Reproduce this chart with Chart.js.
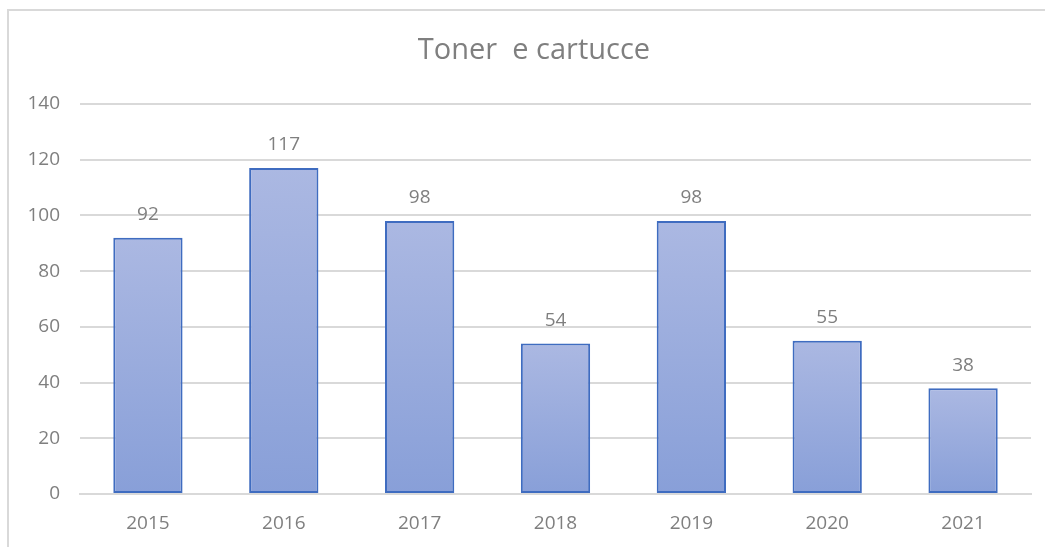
<!DOCTYPE html>
<html lang="it">
<head>
  <meta charset="UTF-8" />
  <title>Toner e cartucce</title>
  <script src="https://cdn.jsdelivr.net/npm/chart.js"></script>
  <style>
    html, body { margin: 0; padding: 0; background: #fff; }
    #wrap { position: relative; width: 1045px; height: 547px; }
    #frame {
      position: absolute; left: 7px; top: 9px; right: 0; bottom: 0;
      border-top: 2px solid #d9d9d9; border-left: 2px solid #d9d9d9;
      pointer-events: none;
    }
  </style>
</head>
<body>
  <div id="wrap">
    <canvas id="tonerChart" width="1045" height="547"></canvas>
    <div id="frame"></div>
  </div>

  <script>
    // data
    const years = ["2015", "2016", "2017", "2018", "2019", "2020", "2021"];
    const quantities = [92, 117, 98, 54, 98, 55, 38];
    const yTicks = [0, 20, 40, 60, 80, 100, 120, 140];
    const chartTitle = "Toner  e cartucce";

    const grey = "#7f7f7f";
    const font = "'Open Sans', 'Noto Sans', sans-serif";

    // gradient per bar, lighter at the top
    function barFill(ctx) {
      const chart = ctx.chart;
      if (!chart.chartArea || ctx.dataIndex === undefined) return "#9aabdc";
      const y = chart.scales.y;
      const top = y.getPixelForValue(quantities[ctx.dataIndex]);
      const bottom = y.getPixelForValue(0);
      const g = chart.ctx.createLinearGradient(0, top, 0, bottom);
      g.addColorStop(0, "#abb8e2");
      g.addColorStop(1, "#889fd8");
      return g;
    }

    // numbers above the bars + the title (sits a bit right of centre, like Excel)
    const textLayer = {
      id: "textLayer",
      afterDatasetsDraw(chart) {
        const c = chart.ctx;
        const meta = chart.getDatasetMeta(0);
        c.save();
        c.fillStyle = grey;
        c.textAlign = "center";
        c.textBaseline = "middle";
        c.font = "19px " + font;
        meta.data.forEach((bar, i) => {
          c.fillText(String(quantities[i]), bar.x, bar.y - 23);
        });
        c.font = "29px " + font;
        c.fillText(chartTitle, 534, 51);
        c.restore();
      }
    };

    new Chart(document.getElementById("tonerChart"), {
      type: "bar",
      data: {
        labels: years,
        datasets: [{
          data: quantities,
          backgroundColor: barFill,
          borderColor: "#3f6cc0",
          borderWidth: 2,
          borderSkipped: false,
          barPercentage: 1,
          categoryPercentage: 0.51
        }]
      },
      options: {
        responsive: false,
        animation: false,
        layout: { padding: { left: 0, right: 14, top: 104, bottom: 0 } },
        plugins: {
          legend: { display: false },
          tooltip: { enabled: false },
          title: { display: false }
        },
        scales: {
          x: {
            grid: { display: false, drawTicks: false },
            border: { color: "#d9d9d9", width: 2 },
            ticks: { color: grey, font: { family: font, size: 19 }, padding: 18 },
            afterFit(scale) { scale.height = 53; }
          },
          y: {
            min: 0,
            max: 140,
            afterBuildTicks(scale) { scale.ticks = yTicks.map(v => ({ value: v })); },
            grid: { color: "#d9d9d9", lineWidth: 2, drawTicks: false },
            border: { display: false },
            ticks: { color: grey, font: { family: font, size: 19 }, padding: 20 },
            afterFit(scale) { scale.width = 80; }
          }
        }
      },
      plugins: [textLayer]
    });
  </script>
</body>
</html>
